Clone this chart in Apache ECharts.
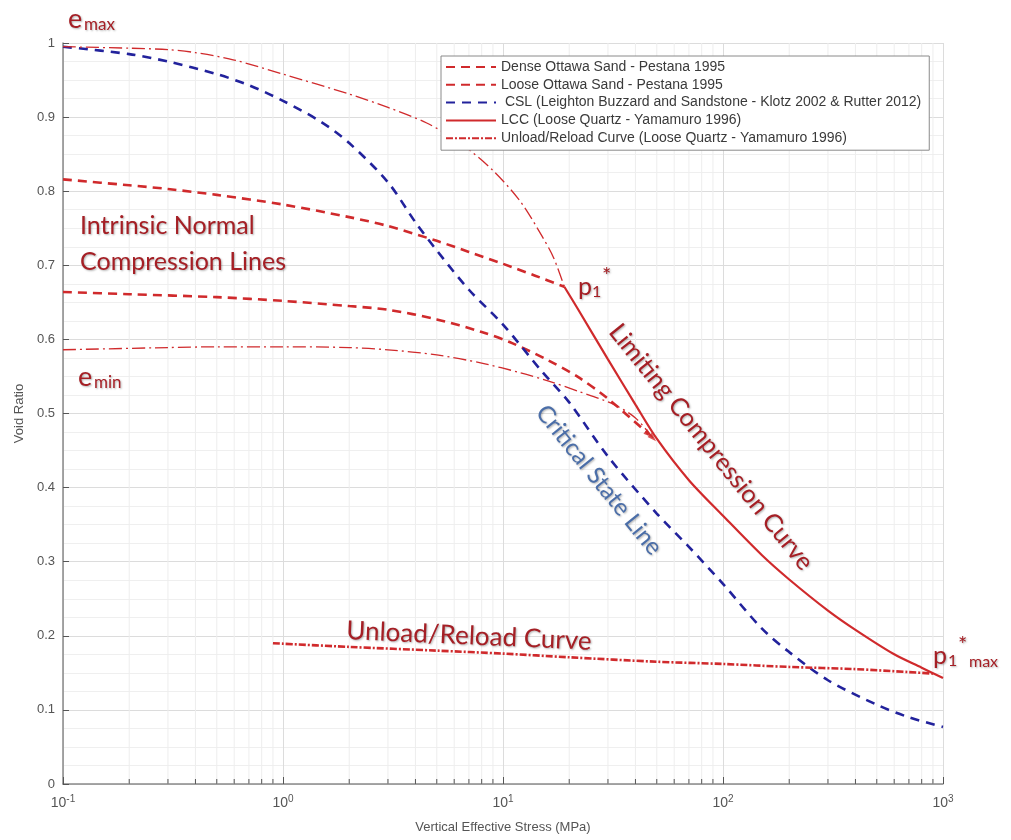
<!DOCTYPE html>
<html>
<head>
<meta charset="utf-8">
<script src="https://cdn.jsdelivr.net/npm/echarts@6/dist/echarts.min.js"></script>
<style>
  html, body { margin: 0; padding: 0; background: #fff; }
  #chart { width: 1011px; height: 840px; }
</style>
</head>
<body>
<div id="chart"></div>
<script>
// Vertical effective stress (MPa) and void ratio for each curve
const denseStress = [0.1, 0.2, 0.3, 0.5, 1, 2, 3, 5, 7, 10, 14, 19];
const denseVoid   = [0.816, 0.808, 0.803, 0.795, 0.782, 0.765, 0.753, 0.733, 0.718, 0.702, 0.686, 0.671];

const looseStress = [0.1, 0.2, 0.5, 1, 2, 3, 5, 8, 11, 16, 22, 30, 46];
const looseVoid   = [0.664, 0.661, 0.657, 0.652, 0.645, 0.640, 0.627, 0.610, 0.595, 0.572, 0.549, 0.520, 0.472];

const cslStress = [0.1, 0.2, 0.3, 0.5, 0.7, 1, 1.5, 2, 3, 4, 5, 7, 10, 15, 20, 30, 50, 70, 100, 150, 200, 300, 500, 700, 1000];
const cslVoid   = [0.995, 0.985, 0.975, 0.958, 0.943, 0.922, 0.893, 0.865, 0.812, 0.758, 0.720, 0.667, 0.620, 0.557, 0.515, 0.442, 0.365, 0.320, 0.270, 0.210, 0.178, 0.140, 0.107, 0.090, 0.077];

const lccStress = [19, 22, 30, 40, 50, 70, 100, 150, 200, 300, 400, 600, 800, 1000];
const lccVoid   = [0.671, 0.640, 0.573, 0.512, 0.466, 0.410, 0.362, 0.309, 0.276, 0.234, 0.208, 0.175, 0.157, 0.143];

const unloadStress = [0.9, 2, 5, 10, 20, 50, 100, 200, 400, 700, 900];
const unloadVoid   = [0.190, 0.185, 0.180, 0.176, 0.171, 0.165, 0.162, 0.158, 0.155, 0.151, 0.149];

const emaxStress = [0.1, 0.2, 0.3, 0.4, 0.6, 1, 2, 3, 4.5, 6.4, 9, 12, 15, 17, 19];
const emaxVoid   = [0.995, 0.993, 0.991, 0.987, 0.977, 0.958, 0.931, 0.913, 0.892, 0.865, 0.828, 0.786, 0.740, 0.710, 0.671];

const eminStress = [0.1, 0.3, 0.5, 1, 2, 3, 5, 8, 12, 16, 22, 32, 40, 48];
const eminVoid   = [0.586, 0.589, 0.590, 0.590, 0.589, 0.586, 0.579, 0.568, 0.555, 0.544, 0.530, 0.512, 0.494, 0.467];

const seriesNames = [
  'Dense Ottawa Sand - Pestana 1995',
  'Loose Ottawa Sand - Pestana 1995',
  'CSL (Leighton Buzzard and Sandstone - Klotz 2002 & Rutter 2012)',
  'LCC (Loose Quartz - Yamamuro 1996)',
  'Unload/Reload Curve (Loose Quartz - Yamamuro 1996)'
];

const RED = '#d02a2c';
const BLUE = '#22229c';
const TEXT_RED = '#a51f25';

function pairs(xs, ys) {
  return xs.map((x, i) => [x, ys[i]]);
}

// arrow heads where the loose and e_min paths reach the limiting curve
const arrowHeads = [
  { value: [looseStress[looseStress.length - 1], looseVoid[looseVoid.length - 1]], symbolRotate: -130 },
  { value: [eminStress[eminStress.length - 1], eminVoid[eminVoid.length - 1]], symbolRotate: -135 }
];

// minor grid positions 2..9 within each decade
const minorX = [];
for (let e = -1; e < 3; e++) {
  for (let k = 2; k <= 9; k++) minorX.push([k * Math.pow(10, e), 0]);
}

const lineBase = {
  type: 'line',
  symbol: 'none',
  showSymbol: false,
  smooth: 0.3,
  silent: true,
  z: 3
};

const chart = echarts.init(document.getElementById('chart'));

const shadow = {
  textShadowColor: 'rgba(0,0,0,0.3)',
  textShadowBlur: 2,
  textShadowOffsetX: 1,
  textShadowOffsetY: 1
};
function note(x, y, text, size, color, rot, align) {
  return {
    type: 'text',
    x: x, y: y,
    rotation: (rot || 0) * Math.PI / 180,
    z: 10,
    style: Object.assign({
      text: text,
      fill: color || TEXT_RED,
      font: size + 'px Lato, "Open Sans", sans-serif',
      textAlign: align || 'left',
      textVerticalAlign: 'middle'
    }, shadow)
  };
}

const sansFont = '"Liberation Sans", Arial, sans-serif';

chart.setOption({
  backgroundColor: '#ffffff',
  animation: false,
  grid: { left: 63, right: 68, top: 43, bottom: 56, containLabel: false },
  legend: {
    data: seriesNames,
    orient: 'vertical',
    left: 441,
    top: 56,
    itemWidth: 50,
    itemHeight: 14,
    itemGap: 3.8,
    padding: [4, 8, 5, 4],
    backgroundColor: '#ffffff',
    borderColor: '#8a8a8a',
    borderWidth: 1,
    borderRadius: 0,
    selectedMode: false,
    itemStyle: { opacity: 0 },
    textStyle: { fontSize: 14, color: '#3a3a3a', fontFamily: sansFont },
    formatter: name => name.indexOf('CSL') === 0 ? ' ' + name : name
  },
  xAxis: {
    type: 'log',
    logBase: 10,
    min: 0.1,
    max: 1000,
    name: 'Vertical Effective Stress (MPa)',
    nameLocation: 'middle',
    nameGap: 37,
    nameTextStyle: { fontSize: 13, color: '#555', fontFamily: sansFont },
    axisLine: { show: true, lineStyle: { color: '#8a8a8a', width: 1.5 } },
    axisTick: { show: true, inside: true, length: 7, lineStyle: { color: '#555' } },
    splitLine: { show: true, lineStyle: { color: '#dcdcdc', width: 1 } },
    axisLabel: {
      margin: 10,
      color: '#555',
      fontFamily: sansFont,
      formatter: v => '{b|10}{s|' + Math.round(Math.log10(v)) + '}',
      rich: {
        b: { fontSize: 14, color: '#555', fontFamily: sansFont },
        s: { fontSize: 10, color: '#555', verticalAlign: 'top', padding: [0, 0, 9, 0], fontFamily: sansFont }
      }
    }
  },
  yAxis: {
    type: 'value',
    min: 0,
    max: 1,
    interval: 0.1,
    name: 'Void Ratio',
    nameLocation: 'middle',
    nameGap: 30,
    nameTextStyle: { fontSize: 13, color: '#555', fontFamily: sansFont },
    axisLine: { show: true, lineStyle: { color: '#8a8a8a', width: 1.5 } },
    axisTick: { show: true, inside: true, length: 6, lineStyle: { color: '#555' } },
    axisLabel: { margin: 8, fontSize: 13, color: '#555', fontFamily: sansFont },
    splitLine: { show: true, lineStyle: { color: '#dcdcdc', width: 1 } },
    minorTick: { show: false, splitNumber: 4 },
    minorSplitLine: { show: true, lineStyle: { color: '#efefef', width: 1 } }
  },
  series: [
    {
      type: 'custom',
      silent: true,
      z: 1,
      data: minorX,
      renderItem: (params, api) => {
        const x = api.value(0);
        const bot = api.coord([x, 0]);
        const top = api.coord([x, 1]);
        return {
          type: 'group',
          children: [
            { type: 'line', shape: { x1: bot[0], y1: bot[1], x2: top[0], y2: top[1] }, style: { stroke: '#eeeeee', lineWidth: 1 } },
            { type: 'line', shape: { x1: bot[0], y1: bot[1], x2: bot[0], y2: bot[1] - 5 }, style: { stroke: '#555', lineWidth: 1 } }
          ]
        };
      }
    },
    Object.assign({}, lineBase, {
      name: seriesNames[0],
      data: pairs(denseStress, denseVoid),
      lineStyle: { color: RED, width: 2.6, type: [9, 6] },
      itemStyle: { color: RED }
    }),
    Object.assign({}, lineBase, {
      name: seriesNames[1],
      data: pairs(looseStress, looseVoid),
      lineStyle: { color: RED, width: 2.6, type: [9, 6] },
      itemStyle: { color: RED }
    }),
    Object.assign({}, lineBase, {
      name: seriesNames[2],
      data: pairs(cslStress, cslVoid),
      lineStyle: { color: BLUE, width: 2.6, type: [9, 7] },
      itemStyle: { color: BLUE }
    }),
    Object.assign({}, lineBase, {
      name: seriesNames[3],
      data: pairs(lccStress, lccVoid),
      lineStyle: { color: RED, width: 2.2, type: 'solid' },
      itemStyle: { color: RED }
    }),
    Object.assign({}, lineBase, {
      name: seriesNames[4],
      data: pairs(unloadStress, unloadVoid),
      lineStyle: { color: RED, width: 2.6, type: [7, 2, 2, 2] },
      itemStyle: { color: RED }
    }),
    Object.assign({}, lineBase, {
      name: 'e_max path',
      data: pairs(emaxStress, emaxVoid),
      lineStyle: { color: RED, width: 1.3, type: [13, 4, 2, 4] },
      itemStyle: { color: RED }
    }),
    Object.assign({}, lineBase, {
      name: 'e_min path',
      data: pairs(eminStress, eminVoid),
      lineStyle: { color: RED, width: 1.3, type: [13, 4, 2, 4] },
      itemStyle: { color: RED }
    }),
    {
      type: 'scatter',
      name: 'arrows',
      silent: true,
      z: 4,
      symbol: 'triangle',
      symbolSize: [6, 9],
      itemStyle: { color: RED },
      data: arrowHeads
    }
  ],
  graphic: [
    note(68, 19, 'e', 27),
    note(84, 25, 'max', 17),
    note(78, 377, 'e', 27),
    note(94, 383, 'min', 17),
    note(80, 226, 'Intrinsic Normal', 25),
    note(80, 262, 'Compression Lines', 25),
    note(578, 287, 'p', 25),
    note(592, 292, '1', 16),
    note(602, 276, '*', 22),
    note(933, 656, 'p', 25),
    note(948, 661, '1', 16),
    note(958, 645, '*', 22),
    note(969, 662, 'max', 16),
    note(711, 447, 'Limiting Compression Curve', 25, TEXT_RED, -51, 'center'),
    note(599, 480, 'Critical State Line', 24, '#4b6ea8', -51, 'center'),
    note(469, 636, 'Unload/Reload Curve', 26, TEXT_RED, -2.5, 'center')
  ]
});
</script>
</body>
</html>
